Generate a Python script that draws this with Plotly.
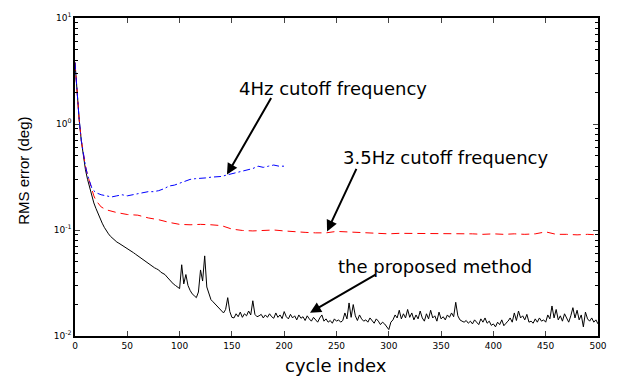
import plotly.graph_objects as go

# ---- data ----
proposed_cycles = list(range(0, 501, 2))
proposed_rms = [
    3.8, 2.0, 1.1, 0.7, 0.48, 0.37, 0.3, 0.25, 0.21, 0.18,
    0.16, 0.142, 0.128, 0.116, 0.106, 0.098, 0.092, 0.087, 0.083, 0.079,
    0.077, 0.075, 0.073, 0.071, 0.069, 0.067, 0.065, 0.063, 0.061, 0.059,
    0.057, 0.056, 0.054, 0.052, 0.050, 0.048, 0.047, 0.045, 0.044, 0.043,
    0.042, 0.040, 0.039, 0.038, 0.036, 0.034, 0.032, 0.031, 0.030, 0.029,
    0.028, 0.047, 0.031, 0.038, 0.030, 0.027, 0.025, 0.024, 0.023, 0.026,
    0.042, 0.033, 0.057, 0.029, 0.025, 0.022, 0.021, 0.020, 0.019, 0.018,
    0.017, 0.0165, 0.0178, 0.023, 0.017, 0.015, 0.0148, 0.0162, 0.0152, 0.0168,
    0.015, 0.0162, 0.0155, 0.0172, 0.0158, 0.0215, 0.016, 0.0152,
    0.0155, 0.016, 0.0148, 0.0158, 0.015, 0.0162, 0.0152, 0.0147, 0.0165, 0.015,
    0.0158, 0.0146, 0.017, 0.0152, 0.0145, 0.016, 0.0148, 0.0155, 0.0142, 0.0158,
    0.0147, 0.0152, 0.014, 0.0155, 0.0145, 0.0138, 0.015, 0.0142, 0.0135, 0.0148,
    0.0158, 0.0138, 0.0145, 0.0135, 0.014, 0.0132, 0.0145, 0.0138, 0.0142, 0.0135,
    0.014, 0.0165, 0.0145, 0.0205, 0.015, 0.0198, 0.0155, 0.014, 0.0158, 0.0145,
    0.0138, 0.0142, 0.0135, 0.0148, 0.014, 0.0132, 0.0145, 0.0138, 0.0128, 0.0135,
    0.013, 0.0122, 0.0115, 0.0135, 0.0142, 0.0158, 0.0148, 0.0175, 0.0145, 0.0162,
    0.0148, 0.0178, 0.015, 0.0165, 0.0142, 0.0158, 0.0145, 0.0172, 0.0148, 0.0138,
    0.0162, 0.0145, 0.0175, 0.0148, 0.0155, 0.0138, 0.0168, 0.0145, 0.0152, 0.0142,
    0.0158, 0.015, 0.0165, 0.0152, 0.0208, 0.0155, 0.0142, 0.0138, 0.0135, 0.014,
    0.0132, 0.0138, 0.013, 0.0142, 0.0136, 0.0128, 0.0145, 0.0135, 0.0148, 0.0132,
    0.0138, 0.0126, 0.013, 0.0122, 0.0135, 0.0128, 0.0142, 0.0125, 0.0132, 0.0138,
    0.0148, 0.0135, 0.0165, 0.014, 0.0172, 0.0148, 0.0155, 0.0142, 0.016, 0.0135,
    0.0138, 0.0132, 0.0145, 0.0135, 0.0148, 0.0138, 0.0142, 0.0135, 0.0158, 0.0145,
    0.0192, 0.0148, 0.0178, 0.0142, 0.0155, 0.0138, 0.0162, 0.0145, 0.0135, 0.0155,
    0.0185, 0.0148, 0.0175, 0.0142, 0.0158, 0.0122, 0.0168, 0.0145, 0.0138, 0.0148,
    0.0135, 0.0142, 0.013,
]

cut35_cycles = [0, 2, 4, 6, 8, 10, 12, 14, 16, 18, 20, 25, 30, 40, 50, 60, 70, 80, 90,
                100, 110, 120, 130, 140, 150, 160, 170, 180, 190, 200, 210, 220, 230,
                240, 250, 260, 270, 280, 290, 300, 310, 320, 330, 340, 350, 360, 370,
                380, 390, 400, 410, 420, 430, 440, 450, 455, 460, 470, 480, 490, 500]
cut35_rms = [3.8, 2.0, 1.1, 0.7, 0.5, 0.4, 0.33, 0.28, 0.24, 0.21, 0.19, 0.165, 0.155,
             0.146, 0.14, 0.138, 0.13, 0.125, 0.118, 0.113, 0.112, 0.113, 0.112, 0.11,
             0.102, 0.099, 0.098, 0.099, 0.1, 0.098, 0.096, 0.095, 0.094, 0.094, 0.097,
             0.096, 0.095, 0.094, 0.094, 0.092, 0.093, 0.093, 0.092, 0.093, 0.092,
             0.093, 0.092, 0.092, 0.091, 0.092, 0.091, 0.092, 0.091, 0.092, 0.096,
             0.094, 0.091, 0.091, 0.09, 0.091, 0.09]

cut4_cycles = [0, 2, 4, 6, 8, 10, 12, 14, 16, 18, 20, 25, 30, 35, 40, 45, 50, 55, 60, 65,
               70, 75, 80, 85, 90, 95, 100, 105, 110, 115, 120, 125, 130, 135, 140, 145,
               150, 155, 160, 165, 170, 175, 180, 185, 190, 195, 200]
cut4_rms = [3.8, 2.0, 1.1, 0.7, 0.5, 0.4, 0.33, 0.28, 0.25, 0.235, 0.225, 0.215, 0.21,
            0.205, 0.21, 0.215, 0.21, 0.215, 0.22, 0.225, 0.23, 0.23, 0.235, 0.245, 0.26,
            0.265, 0.275, 0.29, 0.3, 0.305, 0.305, 0.31, 0.315, 0.315, 0.32, 0.33, 0.34,
            0.35, 0.36, 0.37, 0.38, 0.4, 0.39, 0.4, 0.41, 0.4, 0.4]

x_ticks = [0, 50, 100, 150, 200, 250, 300, 350, 400, 450, 500]
y_ticks = [0.01, 0.1, 1, 10]
y_tick_text = ["10<sup>-2</sup>", "10<sup>-1</sup>", "10<sup>0</sup>", "10<sup>1</sup>"]
y_minor = [m * 10 ** e for e in (-2, -1, 0) for m in range(2, 10)]

FONT = "DejaVu Sans"

fig = go.Figure()
fig.add_trace(go.Scatter(x=proposed_cycles, y=proposed_rms, mode="lines",
                         line=dict(color="black", width=1)))
fig.add_trace(go.Scatter(x=cut35_cycles, y=cut35_rms, mode="lines",
                         line=dict(color="#ff0000", width=1, dash="8px,5px")))
fig.add_trace(go.Scatter(x=cut4_cycles, y=cut4_rms, mode="lines",
                         line=dict(color="#0000ff", width=1, dash="7px,3px,2px,3px")))

arrows = [
    # tip x, tip y, ax, ay
    (145.3, 0.333, 45, -78),
    (241.0, 0.097, 30, -64),
    (224.7, 0.0166, 67, -39),
]
for tx, ty, ax, ay in arrows:
    fig.add_annotation(x=tx, y=__import__("math").log10(ty), xref="x", yref="y",
                       text="", showarrow=True, ax=ax, ay=ay,
                       arrowhead=2, arrowsize=1.1, arrowwidth=2, arrowcolor="black")

labels = [
    ("4Hz cutoff frequency", 247, 2.16),
    ("3.5Hz cutoff frequency", 354, 0.479),
    ("the proposed method", 344, 0.0452),
]
import math
for txt, lx, ly in labels:
    fig.add_annotation(x=lx, y=math.log10(ly), xref="x", yref="y", text=txt,
                       showarrow=False, xanchor="center", yanchor="middle",
                       font=dict(family=FONT, size=18, color="black"))

fig.add_annotation(text="cycle index", x=0.499, y=-0.092, xref="paper", yref="paper",
                   showarrow=False, xanchor="center", yanchor="middle",
                   font=dict(family=FONT, size=18, color="black"))
fig.add_annotation(text="RMS error (deg)", x=-0.099, y=0.52, xref="paper", yref="paper",
                   showarrow=False, xanchor="center", yanchor="middle", textangle=-90,
                   font=dict(family="Liberation Sans", size=15, color="black"))

fig.update_layout(
    width=621, height=377,
    margin=dict(l=75, r=23, t=11, b=41),
    paper_bgcolor="white", plot_bgcolor="white",
    showlegend=False,
    font=dict(family=FONT, size=9, color="black"),
)
fig.update_xaxes(range=[0, 500], tickvals=x_ticks, ticks="inside", ticklen=5,
                 showline=True, linecolor="black", linewidth=1.5, mirror="ticks",
                 showgrid=False, zeroline=False, tickfont=dict(family=FONT, size=9))
fig.update_yaxes(type="log", range=[-2, 1], tickvals=y_ticks, ticktext=y_tick_text,
                 ticks="inside", ticklen=5, showline=True, linecolor="black",
                 linewidth=1.5, mirror="ticks", showgrid=False, zeroline=False,
                 tickfont=dict(family=FONT, size=9),
                 minor=dict(tickvals=y_minor, ticks="inside", ticklen=3,
                            tickcolor="black", showgrid=False))

fig.write_html("out.html")
